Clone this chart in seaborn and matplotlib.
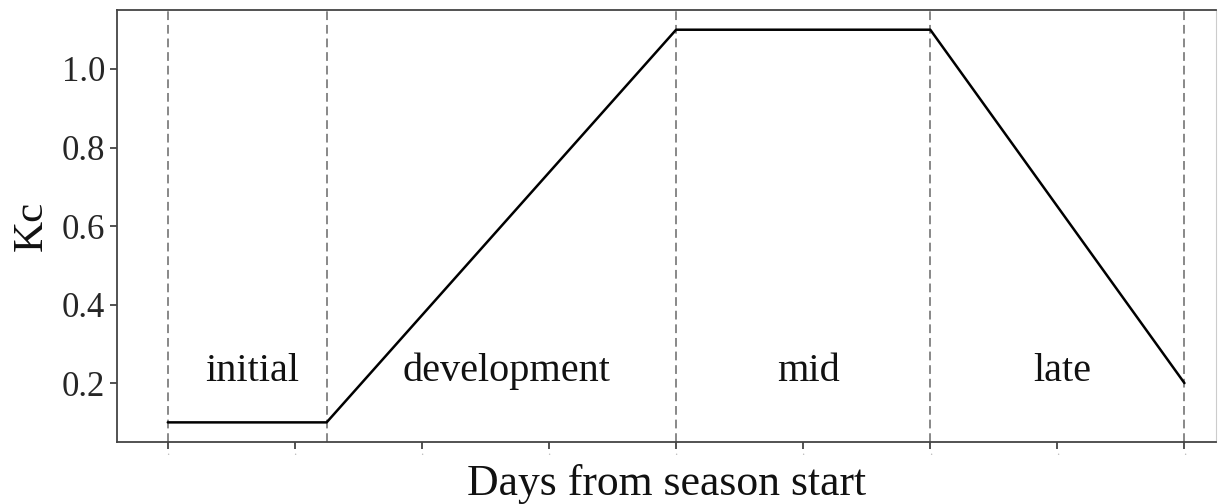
import matplotlib
matplotlib.use("Agg")
import matplotlib.pyplot as plt
import seaborn as sns
import pandas as pd

# Data
stage_days = [0, 25, 80, 120, 160]          # stage boundaries (days)
kc_values = [0.1, 0.1, 1.1, 1.1, 0.2]        # Kc at boundaries
stage_names = ["initial", "development", "mid", "late"]
x_ticks = [0, 20, 40, 60, 80, 100, 120, 140, 160]
y_ticks = [0.2, 0.4, 0.6, 0.8, 1.0]

sns.set_theme(style="white")
plt.rcParams["font.family"] = ["Liberation Serif", "DejaVu Serif"]

fig = plt.figure(figsize=(12.31, 5.04), dpi=100)
ax = fig.add_axes([0.095, 0.123, 0.893, 0.857])

df = pd.DataFrame({"day": stage_days, "kc": kc_values})
sns.lineplot(data=df, x="day", y="kc", ax=ax, color="black", linewidth=1.8)

for d in stage_days:
    ax.axvline(d, color="#888888", linestyle=(0, (4.5, 2.5)), linewidth=1.4, zorder=0)

for i, name in enumerate(stage_names):
    mid = (stage_days[i] + stage_days[i + 1]) / 2 + 0.8
    ax.text(mid, 0.23, name, ha="center", va="center", fontsize=29, color="#111111")

ax.set_xlim(-8, 165)
ax.set_ylim(0.05, 1.15)
ax.set_yticks(y_ticks)
ax.set_yticklabels([f"{v:.1f}" for v in y_ticks], fontsize=25)
ax.set_xticks(x_ticks)
ax.set_xticklabels(["." for _ in x_ticks], fontsize=9, color="#bbbbbb")
ax.tick_params(axis="x", direction="out", length=5, width=1.2, color="#333333",
               bottom=True, pad=-2)
ax.tick_params(axis="y", direction="out", length=5, width=1.2, color="#333333",
               left=True)
ax.set_xlabel("Days from season start", fontsize=31.5, color="#111111", labelpad=4)
ax.set_ylabel("Kc", fontsize=31, color="#111111", labelpad=8)

for side in ["left", "bottom", "top"]:
    ax.spines[side].set_color("#444444")
    ax.spines[side].set_linewidth(1.3)
ax.spines["right"].set_color("#cccccc")
ax.spines["right"].set_linewidth(0.8)

fig.savefig("out.png", dpi=100)
